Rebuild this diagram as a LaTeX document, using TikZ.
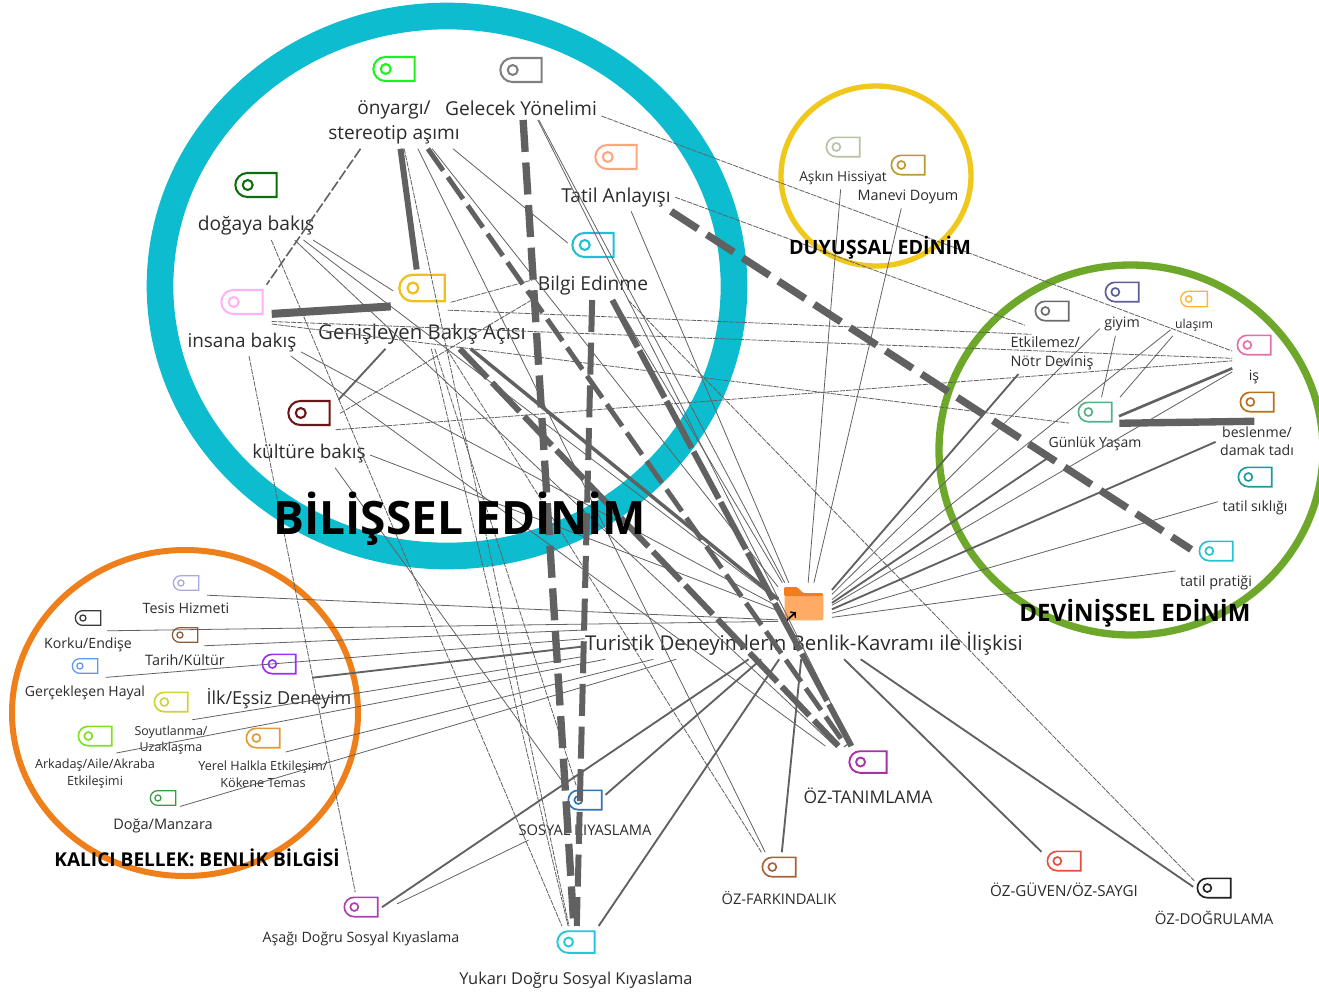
\documentclass[tikz,border=0pt]{standalone}
\usepackage{fontspec}
\setmainfont{Open Sans}
\usetikzlibrary{positioning,fit,calc,shapes.misc}
\definecolor{labtext}{HTML}{2B2B2B}
\definecolor{linkgray}{HTML}{616161}
\definecolor{cBilissel}{HTML}{0DBCCF}
\definecolor{cDuyussal}{HTML}{F0C81C}
\definecolor{cDevinis}{HTML}{6EA82A}
\definecolor{cKalici}{HTML}{EE7F1A}
\definecolor{cOnyargi}{HTML}{19F519}
\definecolor{cGelecek}{HTML}{808080}
\definecolor{cTatilan}{HTML}{FFA680}
\definecolor{cBilgi}{HTML}{22BFD3}
\definecolor{cDoga}{HTML}{0E6E0E}
\definecolor{cInsana}{HTML}{FFB3F5}
\definecolor{cGenis}{HTML}{F2C01E}
\definecolor{cKultur}{HTML}{6B1616}
\definecolor{cAskin}{HTML}{B7C2A3}
\definecolor{cManevi}{HTML}{B89A30}
\definecolor{cEtki}{HTML}{6B6B6B}
\definecolor{cGiyim}{HTML}{5C5C9A}
\definecolor{cUlasim}{HTML}{FFB52E}
\definecolor{cIs}{HTML}{E070A8}
\definecolor{cGunluk}{HTML}{55B088}
\definecolor{cBeslenme}{HTML}{B8701E}
\definecolor{cSiklik}{HTML}{1E9A9A}
\definecolor{cPratik}{HTML}{22C4D0}
\definecolor{cTesis}{HTML}{A8A8E0}
\definecolor{cKorku}{HTML}{3A3A3A}
\definecolor{cTarih}{HTML}{8A5A3A}
\definecolor{cGercek}{HTML}{5C9AEE}
\definecolor{cIlk}{HTML}{9B30FF}
\definecolor{cSoyut}{HTML}{CFD33A}
\definecolor{cArkadas}{HTML}{7FE020}
\definecolor{cYerel}{HTML}{E09A3A}
\definecolor{cManzara}{HTML}{3A9A4A}
\definecolor{cAsagi}{HTML}{B040B0}
\definecolor{cYukari}{HTML}{22C8D8}
\definecolor{cSosyal}{HTML}{2E74B5}
\definecolor{cTanim}{HTML}{A830A8}
\definecolor{cFark}{HTML}{A8623A}
\definecolor{cGuven}{HTML}{E84C3C}
\definecolor{cDogru}{HTML}{222222}

\begin{document}
\begin{tikzpicture}[
x=0.75pt, y=-0.75pt,
    ring/.style = {line width=#1},
    lab/.style = {font={\fontsize{#1}{#1}\selectfont\setlength\baselineskip{1.3\baselineskip}},
                  align=center, inner sep=0pt, text=labtext},
  title/.style = {font={\fontsize{#1}{#1}\selectfont\bfseries}, inner sep=0pt, text=black},
    grp/.style = {rectangle, inner sep=3pt},
codetag/.style 2 args = {rounded rectangle, rounded rectangle right arc=none, draw=#1,
                  line width=#2*0.05pt, minimum width=#2pt, minimum height=#2*0.58pt, inner sep=0pt,
                  path picture={\draw[#1, line width=#2*0.05pt]
                  ($(path picture bounding box.west)!0.3!(path picture bounding box.east)$)
                  circle [radius=#2*0.12pt];}},
  thinl/.style = {draw=linkgray, line width=0.6pt},
  thind/.style = {draw=linkgray, line width=0.6pt, dash pattern=on 4pt off 0.8pt},
   midl/.style = {draw=linkgray, line width=1.4pt},
   midd/.style = {draw=linkgray, line width=1.2pt, dash pattern=on 8pt off 2pt},
  thickl/.style = {draw=linkgray, line width=#1},
  thickd/.style = {draw=linkgray, line width=#1, dash pattern=on 24pt off 8pt}
                    ]
\clip (0,0) rectangle (1319,992);
\useasboundingbox (0,0) rectangle (1319,992);

% circles
\draw [ring=20pt, cBilissel] (447,286) ellipse [x radius=287, y radius=270];
\draw [ring=4pt, cDuyussal] (876,176) ellipse [x radius=95, y radius=90];
\draw [ring=5.5pt, cDevinis] (1131,450) ellipse [x radius=192, y radius=185];
\draw [ring=4.5pt, cKalici] (185,713) ellipse [x radius=173, y radius=163];

% bilissel
\node (onyargiT) [codetag={cOnyargi}{31}] at (394,69) {};
\node (onyargiL) [lab=14.3, below=14pt of onyargiT] {önyargı/\\stereotip aşımı};
\node (onyargi) [grp, fit=(onyargiT)(onyargiL)] {};
\node (gelecekT) [codetag={cGelecek}{31}] at (521,70) {};
\node (gelecekL) [lab=14.4, below=13pt of gelecekT] {Gelecek Yönelimi};
\node (gelecek) [grp, fit=(gelecekT)(gelecekL)] {};
\node (tatilanT) [codetag={cTatilan}{31}] at (616,157) {};
\node (tatilanL) [lab=14.4, below=13pt of tatilanT] {Tatil Anlayışı};
\node (tatilan) [grp, fit=(tatilanT)(tatilanL)] {};
\node (bilgiT) [codetag={cBilgi}{31}] at (593,245) {};
\node (bilgiL) [lab=14.4, below=13.5pt of bilgiT] {Bilgi Edinme};
\node (bilgi) [grp, fit=(bilgiT)(bilgiL)] {};
\node (dogaT) [codetag={cDoga}{31}] at (256,185) {};
\node (dogaL) [lab=14.4, below=13.5pt of dogaT] {doğaya bakış};
\node (doga) [grp, fit=(dogaT)(dogaL)] {};
\node (insanaT) [codetag={cInsana}{31}] at (242,302) {};
\node (insanaL) [lab=14.2, below=13pt of insanaT] {insana bakış};
\node (insana) [grp, fit=(insanaT)(insanaL)] {};
\node (genisT) [codetag={cGenis}{34}] at (422,288) {};
\node (genisL) [lab=15.3, below=16pt of genisT] {Genişleyen Bakış Açısı};
\node (genis) [grp, fit=(genisT)(genisL)] {};
\node (kulturT) [codetag={cKultur}{31}] at (309,413) {};
\node (kulturL) [lab=14.2, below=13.5pt of kulturT] {kültüre bakış};
\node (kultur) [grp, fit=(kulturT)(kulturL)] {};

% duyussal
\node (askinT) [codetag={cAskin}{25}] at (843,147) {};
\node (askinL) [lab=10.3, below=10pt of askinT] {Aşkın Hissiyat};
\node (askin) [grp, fit=(askinT)(askinL)] {};
\node (maneviT) [codetag={cManevi}{25}] at (908,165) {};
\node (maneviL) [lab=10.8, below=10.5pt of maneviT] {Manevi Doyum};
\node (manevi) [grp, fit=(maneviT)(maneviL)] {};

% devinissel
\node (etkiT) [codetag={cEtki}{25}] at (1052,311) {};
\node (etkiL) [lab=10.8, align=left, below=11pt of etkiT] {Etkilemez/\\Nötr Deviniş};
\node (etki) [grp, fit=(etkiT)(etkiL)] {};
\node (giyimT) [codetag={cGiyim}{25}] at (1122,292) {};
\node (giyimL) [lab=10.7, below=11pt of giyimT] {giyim};
\node (giyim) [grp, fit=(giyimT)(giyimL)] {};
\node (ulasimT) [codetag={cUlasim}{20}] at (1194,299) {};
\node (ulasimL) [lab=9.2, below=8.6pt of ulasimT] {ulaşım};
\node (ulasim) [grp, fit=(ulasimT)(ulasimL)] {};
\node (isT) [codetag={cIs}{25}] at (1254,345) {};
\node (isL) [lab=10.6, below=10.5pt of isT] {iş};
\node (is) [grp, fit=(isT)(isL)] {};
\node (gunlukT) [codetag={cGunluk}{25}] at (1095,412) {};
\node (gunlukL) [lab=10.5, below=10.5pt of gunlukT] {Günlük Yaşam};
\node (gunluk) [grp, fit=(gunlukT)(gunlukL)] {};
\node (beslenmeT) [codetag={cBeslenme}{25}] at (1257,402) {};
\node (beslenmeL) [lab=10.6, below=10.5pt of beslenmeT] {beslenme/\\damak tadı};
\node (beslenme) [grp, fit=(beslenmeT)(beslenmeL)] {};
\node (siklikT) [codetag={cSiklik}{25}] at (1255,477) {};
\node (siklikL) [lab=10.6, below=10pt of siklikT] {tatil sıklığı};
\node (siklik) [grp, fit=(siklikT)(siklikL)] {};
\node (pratikT) [codetag={cPratik}{25}] at (1216,551) {};
\node (pratikL) [lab=10.8, below=10.5pt of pratikT] {tatil pratiği};
\node (pratik) [grp, fit=(pratikT)(pratikL)] {};

% kalici bellek
\node (tesisT) [codetag={cTesis}{19}] at (186,583) {};
\node (tesisL) [lab=10.7, below=8.6pt of tesisT] {Tesis Hizmeti};
\node (tesis) [grp, fit=(tesisT)(tesisL)] {};
\node (korkuT) [codetag={cKorku}{19}] at (88,618) {};
\node (korkuL) [lab=10.6, below=8.6pt of korkuT] {Korku/Endişe};
\node (korku) [grp, fit=(korkuT)(korkuL)] {};
\node (tarihT) [codetag={cTarih}{19}] at (185,635) {};
\node (tarihL) [lab=10.8, below=8.6pt of tarihT] {Tarih/Kültür};
\node (tarih) [grp, fit=(tarihT)(tarihL)] {};
\node (gercekT) [codetag={cGercek}{19}] at (85,666) {};
\node (gercekL) [lab=10.5, below=8.6pt of gercekT] {Gerçekleşen Hayal};
\node (gercek) [grp, fit=(gercekT)(gercekL)] {};
\node (ilkT) [codetag={cIlk}{25}] at (279,664) {};
\node (ilkL) [lab=13.5, below=10.5pt of ilkT] {İlk/Eşsiz Deneyim};
\node (ilk) [grp, fit=(ilkT)(ilkL)] {};
\node (soyutT) [codetag={cSoyut}{25}] at (171,702) {};
\node (soyutL) [lab=9.3, below=10pt of soyutT] {Soyutlanma/\\Uzaklaşma};
\node (soyut) [grp, fit=(soyutT)(soyutL)] {};
\node (arkadasT) [codetag={cArkadas}{25}] at (95,736) {};
\node (arkadasL) [lab=9.5, below=9.4pt of arkadasT] {Arkadaş/Aile/Akraba\\Etkileşimi};
\node (arkadas) [grp, fit=(arkadasT)(arkadasL)] {};
\node (yerelT) [codetag={cYerel}{25}] at (263,738) {};
\node (yerelL) [lab=9.5, below=9.4pt of yerelT] {Yerel Halkla Etkileşim/\\Kökene Temas};
\node (yerel) [grp, fit=(yerelT)(yerelL)] {};
\node (manzaraT) [codetag={cManzara}{19}] at (163,798) {};
\node (manzaraL) [lab=10.9, below=9.2pt of manzaraT] {Doğa/Manzara};
\node (manzara) [grp, fit=(manzaraT)(manzaraL)] {};

% oz ve sosyal kiyaslama
\node (asagiT) [codetag={cAsagi}{25}] at (361,907) {};
\node (asagiL) [lab=10.7, below=10.5pt of asagiT] {Aşağı Doğru Sosyal Kıyaslama};
\node (asagi) [grp, fit=(asagiT)(asagiL)] {};
\node (yukariT) [codetag={cYukari}{28}] at (576,942) {};
\node (yukariL) [lab=12.3, below=13.5pt of yukariT] {Yukarı Doğru Sosyal Kıyaslama};
\node (yukari) [grp, fit=(yukariT)(yukariL)] {};
\node (sosyalT) [codetag={cSosyal}{25}] at (585,800) {};
\node (sosyalL) [lab=11, below=10.5pt of sosyalT] {SOSYAL KIYASLAMA};
\node (sosyal) [grp, fit=(sosyalT)(sosyalL)] {};
\node (tanimT) [codetag={cTanim}{28}] at (868,762) {};
\node (tanimL) [lab=13.1, below=10.5pt of tanimT] {ÖZ-TANIMLAMA};
\node (tanim) [grp, fit=(tanimT)(tanimL)] {};
\node (farkT) [codetag={cFark}{25}] at (779,867) {};
\node (farkL) [lab=11, below=10pt of farkT] {ÖZ-FARKINDALIK};
\node (fark) [grp, fit=(farkT)(farkL)] {};
\node (guvenT) [codetag={cGuven}{25}] at (1064,861) {};
\node (guvenL) [lab=11.4, below=8.5pt of guvenT] {ÖZ-GÜVEN/ÖZ-SAYGI};
\node (guven) [grp, fit=(guvenT)(guvenL)] {};
\node (dogruT) [codetag={cDogru}{25}] at (1214,888) {};
\node (dogruL) [lab=11.2, below=9pt of dogruT] {ÖZ-DOĞRULAMA};
\node (dogru) [grp, fit=(dogruT)(dogruL)] {};

% merkez
\node (folder) [rectangle, rounded corners=1pt, fill={rgb,255:red,255;green,171;blue,102},
                minimum width=29pt, minimum height=20pt, inner sep=0pt] at (804,607) {};
\fill [rounded corners=1pt, cKalici]
      (784,596) -- (784,587) -- (797,587) -- (803,593) -- (823,593) -- (823,596) -- cycle;
\draw [black, line width=1.3pt, ->] (786,621) -- (796,612);
\node (hubL) [lab=15.3] at (804,644) {Turistik Deneyimlerin Benlik-Kavramı ile İlişkisi};
\node (hub) [rectangle, inner sep=0pt, minimum width=40pt, minimum height=57pt] at (805,621) {};
\node (hubw) [rectangle, inner sep=0pt, minimum width=330pt, minimum height=57pt] at (805,621) {};

% baglantilar
\path (onyargi) edge [thickl=4.5pt] (genis)
      (genis) edge [thickl=6pt, shorten <=-58pt, shorten >=-22pt, transform canvas={yshift=3.5pt}] (insana)
      (tatilan) edge [thickd=5.5pt, shorten >=-14pt] (pratik)
      (gelecek) edge [thickd=5.5pt] (yukari)
      (bilgi) edge [thickd=4.5pt] (yukari)
      (bilgi) edge [thickl=4.5pt, dash pattern=on 40pt off 3pt] (tanim)
      (genis) edge [thickl=4.5pt, dash pattern=on 30pt off 5pt] (tanim)
      (onyargi) edge [thickl=3.7pt, dash pattern=on 20pt off 6pt] (tanim)
      (genis) edge [thickl=2.6pt] (hub)
      (gunluk) edge [thickl=5.5pt, shorten <=-20pt, shorten >=-29pt, transform canvas={yshift=2pt}] (beslenme)
      (gunluk) edge [thickl=2pt, shorten <=-22pt] (is)
      (onyargi) edge [midd] (insana);
\path (sosyal) edge [midl, shorten <=-11pt] (hubw)
      (asagi) edge [midl, shorten <=-20pt] (hubw)
      (yukari) edge [midl] (hubw)
      (fark) edge [midl] (hubw)
      (guven) edge [midl, shorten <=-6pt] (hubw)
      (dogru) edge [midl, shorten <=-18pt] (hubw)
      (etki) edge [midl] (hub)
      (gunluk) edge [midl] (hub)
      (beslenme) edge [midl] (hub)
      (kultur) edge [midl, shorten <=-4pt] (genis)
      (ilk) edge [midl, shorten <=-33pt] (hubw);
\path (tesis) edge [thinl, shorten <=-20pt] (hub)
      (korku) edge [thinl, shorten <=-22pt] (hub)
      (tarih) edge [thinl, shorten <=-19pt] (hubw)
      (gercek) edge [thinl, shorten <=-33pt] (hubw)
      (soyut) edge [thinl, shorten <=-15pt] (hubw)
      (arkadas) edge [thinl, shorten <=-33pt] (hubw)
      (yerel) edge [thinl, shorten <=-36pt] (hubw)
      (manzara) edge [thinl, shorten <=-29pt] (hubw)
      (askin) edge [thinl] (hub)
      (manevi) edge [thinl] (hub)
      (giyim) edge [thinl] (hub)
      (ulasim) edge [thinl] (hub)
      (is) edge [thinl] (hub)
      (siklik) edge [thinl] (hub)
      (pratik) edge [thinl] (hub)
      (giyim) edge [thinl] (gunluk)
      (ulasim) edge [thinl] (gunluk)
      (onyargi) edge [thinl] (hub)
      (onyargi) edge [thinl] (fark)
      (onyargi) edge [thinl, shorten >=-18pt] (bilgi)
      (gelecek) edge [thinl] (hub)
      (gelecek) edge [thinl] (tanim)
      (tatilan) edge [thinl] (hub)
      (bilgi) edge [thinl] (hub)
      (doga) edge [thinl, shorten >=-30pt] (genis)
      (doga) edge [thinl] (hub)
      (doga) edge [thinl] (tanim)
      (insana) edge [thinl] (hub)
      (insana) edge [thinl] (tanim)
      (kultur) edge [thinl] (hub)
      (kultur) edge [thinl] (sosyal)
      (asagi) edge [thinl, shorten <=-20pt] (sosyal);
\path (gelecek) edge [thind] (is)
      (tatilan) edge [thind, shorten >=-15pt] (etki)
      (bilgi) edge [thind, shorten >=-8pt] (dogru)
      (genis) edge [thind, shorten <=-62pt] (bilgi)
      (genis) edge [thind, shorten <=-62pt, shorten >=-19pt] (etki)
      (genis) edge [thind] (yukari)
      (genis) edge [thind] (sosyal)
      (genis) edge [thind] (fark)
      (insana) edge [thind, shorten <=-22pt] (is)
      (insana) edge [thind, shorten <=-22pt, shorten >=-19pt] (gunluk)
      (insana) edge [thind] (asagi)
      (kultur) edge [thind, shorten <=-26pt] (bilgi)
      (kultur) edge [thind, shorten <=-26pt] (is)
      (onyargi) edge [thind] (yukari)
      (doga) edge [thind] (yukari);

% basliklar
\node (bilisselT) [title=34.5] at (460,519) {BİLİŞSEL EDİNİM};
\node (duyussalT) [title=14.8] at (880,248) {DUYUŞSAL EDİNİM};
\node (devinisT) [title=18] at (1135,613) {DEVİNİŞSEL EDİNİM};
\node (kaliciT) [title=14.3] at (197,858) {KALICI BELLEK: BENLİK BİLGİSİ};
\end{tikzpicture}
\end{document}
